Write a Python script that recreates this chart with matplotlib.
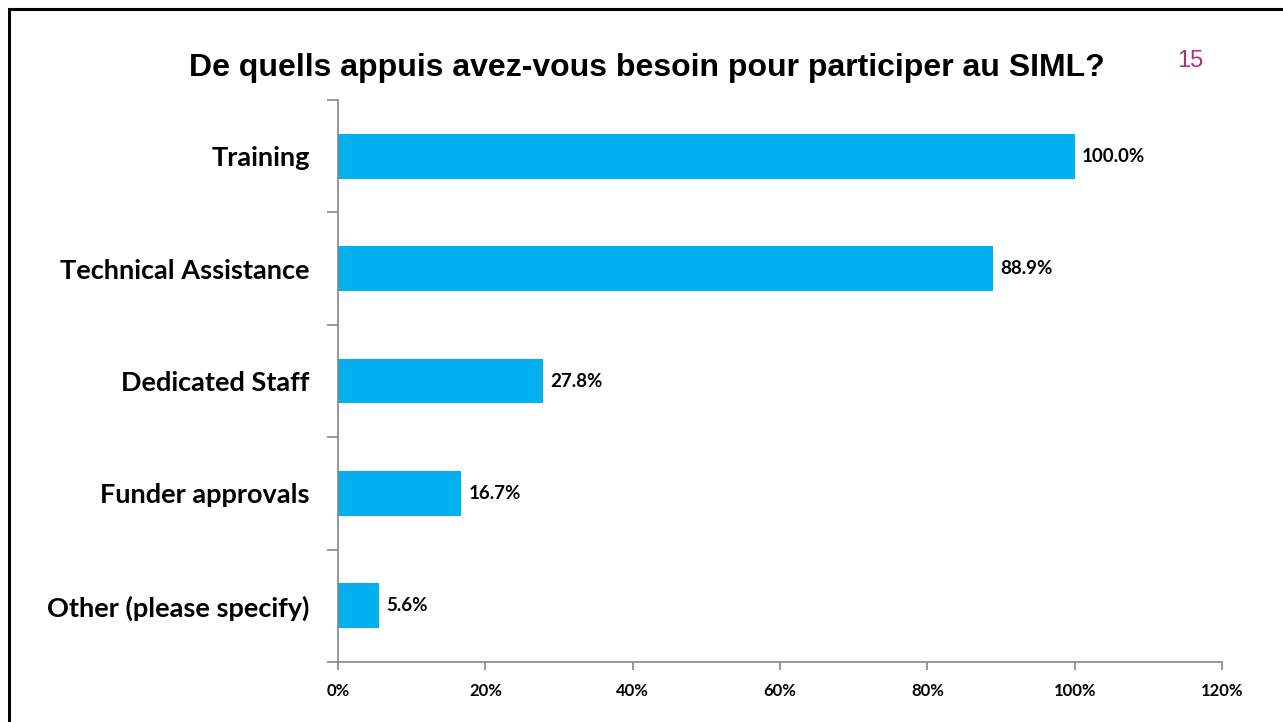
import matplotlib.pyplot as plt
import numpy as np
from matplotlib.patches import Rectangle
from matplotlib.ticker import FixedLocator

categories = ['Training', 'Technical Assistance', 'Dedicated Staff', 'Funder approvals', 'Other (please specify)']
values = [100.0, 88.9, 27.8, 16.7, 5.6]
xticks = [0, 20, 40, 60, 80, 100, 120]
title = 'De quells appuis avez-vous besoin pour participer au SIML?'
page_no = '15'

bar_color = '#00B0F0'
axis_color = '#868686'
label_font = ['Lato', 'DejaVu Sans']

fig = plt.figure(figsize=(12.83, 7.22), dpi=100)
fig.patches.append(Rectangle((9 / 1283, -0.1), 1.1, 1.1 - 9 / 722, transform=fig.transFigure,
                             fill=False, edgecolor='black', linewidth=2.2))

ax = fig.add_axes([338 / 1283, 1 - 662 / 722, (1222 - 338) / 1283, (662 - 100) / 722])
y = np.arange(len(categories))
ax.barh(y, values, height=0.4, color=bar_color)

for yi, v in zip(y, values):
    ax.text(v + 1.0, yi, f'{v:.1f}%', va='center', ha='left', fontsize=13.5,
            fontweight='bold', family=label_font)

ax.set_xlim(0, 120)
ax.set_ylim(len(categories) - 0.5, -0.5)
ax.set_xticks(xticks)
ax.set_xticklabels([f'{t}%' for t in xticks], fontsize=12, fontweight='bold', family=label_font)
ax.set_yticks(y)
ax.set_yticklabels(categories, fontsize=19.5, fontweight='bold', family=label_font)
ax.yaxis.set_minor_locator(FixedLocator(np.arange(-0.5, len(categories), 1)))
ax.tick_params(axis='y', which='major', length=0, pad=20.5)
ax.tick_params(axis='y', which='minor', length=8, color=axis_color, width=1.2)
ax.tick_params(axis='x', length=6, color=axis_color, width=1.2, pad=9)

for s in ['top', 'right']:
    ax.spines[s].set_visible(False)
for s in ['left', 'bottom']:
    ax.spines[s].set_color(axis_color)
    ax.spines[s].set_linewidth(1.2)

fig.text(647 / 1283, 1 - 68 / 722, title, ha='center', va='center', fontsize=23,
         fontweight='bold', family='Liberation Sans')
fig.text(1190 / 1283, 1 - 61 / 722, page_no, ha='center', va='center', fontsize=17,
         color='#B3307A', family='Liberation Sans')

fig.savefig('out.png', dpi=100)
